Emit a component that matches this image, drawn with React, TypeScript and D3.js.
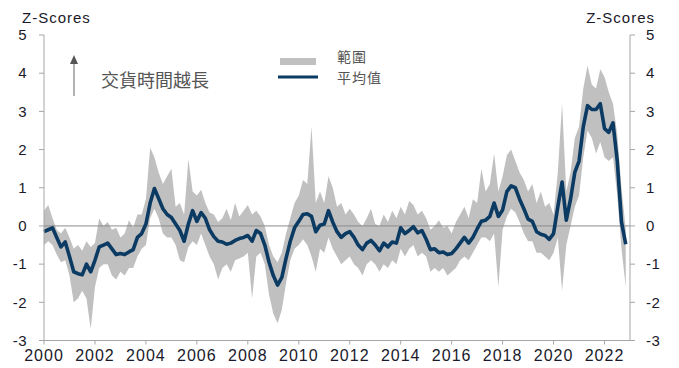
import React from "react";
import * as d3 from "d3";

// Bimonthly observations starting Jan 2000
const startYear = 2000;
const stepsPerYear = 6;

const meanValues = [
  -0.15, -0.1, -0.05, -0.3, -0.55, -0.42,
  -0.8, -1.2, -1.25, -1.28, -1.0, -1.2,
  -0.9, -0.55, -0.5, -0.45, -0.6, -0.75,
  -0.72, -0.75, -0.68, -0.62, -0.3, -0.2,
  0.05, 0.6, 0.98, 0.72, 0.45, 0.3,
  0.22, 0.05, -0.12, -0.4, 0.05, 0.4,
  0.12, 0.35, 0.2, -0.1, -0.28, -0.4,
  -0.42, -0.48, -0.45, -0.38, -0.33, -0.3,
  -0.25, -0.4, -0.12, -0.2, -0.5, -0.95,
  -1.3, -1.55, -1.35, -0.85, -0.4, -0.05,
  0.12, 0.3, 0.32, 0.25, -0.15, 0.02,
  0.05, 0.4, 0.1, -0.15, -0.3, -0.2,
  -0.15, -0.3, -0.5, -0.62, -0.45, -0.38,
  -0.5, -0.65, -0.45, -0.55, -0.42, -0.45,
  -0.05, -0.2, -0.12, -0.02, -0.18, -0.12,
  -0.35, -0.62, -0.6, -0.7, -0.68, -0.75,
  -0.72, -0.6, -0.45, -0.3, -0.45, -0.3,
  -0.08, 0.12, 0.15, 0.25, 0.6, 0.25,
  0.42, 0.9, 1.05, 1.0, 0.7, 0.45,
  0.18, 0.12, -0.15, -0.22, -0.25, -0.35,
  -0.2, 0.5, 1.15, 0.15, 0.7, 1.4,
  1.7, 2.6, 3.15, 3.05, 3.05, 3.2,
  2.55, 2.45, 2.7, 1.7, 0.1, -0.48,
];

const highValues = [
  0.4, 0.55, 0.2, -0.1, -0.2, -0.05,
  -0.3, -0.6, -0.5, -0.65, -0.4, -0.55,
  -0.45, 0.2, 0.0, 0.1, -0.1, -0.05,
  -0.3, -0.2, 0.15, -0.05, 0.3, 0.3,
  0.7, 2.05, 1.8, 1.4, 1.1, 1.3,
  1.5, 0.5, 0.6, 0.3, 1.75, 0.9,
  0.8, 0.95, 0.6, 0.35, 0.3, 0.1,
  0.2, 0.45, 0.15, 0.6, 0.25, 0.4,
  0.55, 0.3, 0.4, 0.25, 0.0, -0.5,
  -0.8, -0.95, -0.7, -0.2, 0.2, 0.6,
  0.8, 1.2, 1.1, 2.6, 0.6, 0.9,
  0.6, 1.3, 1.0, 0.5, 0.6, 0.3,
  0.45, 0.3, 0.1, 0.0, 0.2, 0.45,
  0.05, 0.0, 0.3, 0.1, 0.4, 0.2,
  0.5, 0.3, 0.65, 0.55, 0.3, 0.4,
  0.2, -0.1, 0.0, 0.15, -0.05, 0.0,
  -0.2, 0.1, 0.3, 0.5, 0.2, 0.7,
  0.6, 1.5, 0.9, 1.1, 1.9, 0.9,
  1.3, 1.85, 2.0, 1.7, 1.4, 1.2,
  0.9, 1.1, 0.6, 0.9, 0.5, 0.6,
  0.3, 1.4, 3.2, 0.9, 1.4, 2.3,
  2.6, 3.6, 4.2, 3.7, 3.6, 4.1,
  3.9, 3.5, 3.2, 2.4, 1.0, -0.1,
];

const lowValues = [
  -0.5, -0.4, -0.5, -0.75, -0.95, -0.9,
  -1.3, -2.0, -1.9, -1.7, -1.9, -2.7,
  -1.6, -1.1, -1.0, -1.0, -1.3, -1.4,
  -1.2, -1.3, -1.1, -1.1, -0.8, -0.6,
  -0.5, 0.2, 0.45, 0.2, -0.2, -0.3,
  -0.3, -0.5, -0.9, -0.95, -0.55, -0.4,
  -0.5, -0.2, -0.5, -0.8, -1.0, -1.4,
  -1.1, -1.0, -1.2, -0.9, -0.85, -0.8,
  -0.7, -1.9, -0.8, -0.7, -1.0, -1.8,
  -2.3, -2.55, -2.2, -1.5, -0.9, -0.6,
  -0.5, -0.35, -0.5, -0.8, -1.2, -0.6,
  -0.7, -0.3, -0.6, -0.8, -1.0, -0.9,
  -0.8, -1.0, -1.1, -1.3, -1.0, -0.9,
  -1.0, -1.2, -1.0, -1.1, -0.9, -1.0,
  -0.6, -0.8, -0.6, -0.5, -0.8, -0.7,
  -0.8, -1.2, -1.1, -1.2, -1.1, -1.3,
  -1.2, -1.1, -0.9, -0.8, -0.9, -0.7,
  -0.5, -0.3, -0.3, -0.4, -0.2, -1.6,
  -0.1, 0.25, 0.45, 0.35, 0.1, -0.2,
  -0.4, -0.4, -0.7, -0.7, -0.8, -0.9,
  -0.7, -0.3, -1.7, -0.5, 0.0, 0.5,
  0.8, 1.8, 2.5, 2.3, 1.9, 2.2,
  1.8, 1.7, 1.8, 0.8, -0.6, -1.6,
];

const xTicks = [2000, 2002, 2004, 2006, 2008, 2010, 2012, 2014, 2016, 2018, 2020, 2022];
const yTicks = [-3, -2, -1, 0, 1, 2, 3, 4, 5];
const axisTitle = "Z-Scores";
const legendRange = "範圍";
const legendMean = "平均值";
const annotation = "交貨時間越長";

const W = 679;
const H = 368;
const FONT = "'Liberation Sans', Arial, sans-serif";
const CJK = "'Noto Sans CJK TC', 'Noto Sans CJK SC', sans-serif";

export default function App() {
  const x = d3.scaleLinear().domain([2000, 2023]).range([44, 630]);
  const y = d3.scaleLinear().domain([-3, 5]).range([340.5, 35]);

  const data = meanValues.map((m, i) => ({
    t: startYear + i / stepsPerYear,
    m,
    hi: highValues[i],
    lo: lowValues[i],
  }));

  const area = d3
    .area<any>()
    .x((d) => x(d.t))
    .y0((d) => y(d.lo))
    .y1((d) => y(d.hi));
  const line = d3
    .line<any>()
    .x((d) => x(d.t))
    .y((d) => y(d.m));

  const axisColor = "#a6a6a6";
  const textColor = "#1a1a2a";

  return (
    <div style={{ position: "absolute", left: 0, top: 0 }}>
      <svg width={W} height={H} style={{ display: "block", background: "#fff" }}>
        {/* band */}
        <path d={area(data) || ""} fill="#c0c0c0" stroke="none" />
        {/* zero line */}
        <line x1={x(2000)} x2={x(2023)} y1={y(0)} y2={y(0)} stroke="#8c8c8c" strokeWidth={1} />
        {/* mean */}
        <path d={line(data) || ""} fill="none" stroke="#0b3a63" strokeWidth={3.6} strokeLinejoin="round" />

        {/* left axis */}
        <line x1={44} x2={44} y1={y(5)} y2={y(-3)} stroke={axisColor} strokeWidth={1} />
        {yTicks.map((v) => (
          <g key={"l" + v}>
            <line x1={39} x2={44} y1={y(v)} y2={y(v)} stroke={axisColor} />
            <text x={27} y={y(v)} dy="0.35em" textAnchor="end" fontFamily={FONT} fontSize={15} letterSpacing={0.5} fill={textColor}>
              {v}
            </text>
          </g>
        ))}
        {/* right axis */}
        <line x1={630} x2={630} y1={y(5)} y2={y(-3)} stroke={axisColor} strokeWidth={1} />
        {yTicks.map((v) => (
          <g key={"r" + v}>
            <line x1={630} x2={635} y1={y(v)} y2={y(v)} stroke={axisColor} />
            <text x={646} y={y(v)} dy="0.35em" textAnchor="start" fontFamily={FONT} fontSize={15} letterSpacing={0.5} fill={textColor}>
              {v}
            </text>
          </g>
        ))}
        {/* bottom axis */}
        <line x1={44} x2={630} y1={y(-3)} y2={y(-3)} stroke={axisColor} strokeWidth={1} />
        {xTicks.map((t) => (
          <g key={"x" + t}>
            <line x1={x(t)} x2={x(t)} y1={y(-3)} y2={y(-3) + 4} stroke={axisColor} />
            <text x={x(t)} y={361} textAnchor="middle" fontFamily={FONT} fontSize={16} letterSpacing={1} fill={textColor}>
              {t}
            </text>
          </g>
        ))}

        {/* axis titles */}
        <text x={22} y={23} fontFamily={FONT} fontSize={15} letterSpacing={1} fill={textColor}>
          {axisTitle}
        </text>
        <text x={655} y={23} textAnchor="end" fontFamily={FONT} fontSize={15} letterSpacing={1} fill={textColor}>
          {axisTitle}
        </text>

        {/* annotation arrow */}
        <line x1={74} x2={74} y1={96} y2={62} stroke="#8a8a8a" strokeWidth={1.3} />
        <path d="M70,64 L74,55 L78,64 Z" fill="#555" />
        <text x={101} y={87} fontFamily={CJK} fontSize={18} fill="#555">
          {annotation}
        </text>

        {/* legend */}
        <rect x={280} y={58} width={36} height={7} fill="#c0c0c0" />
        <line x1={278} x2={318} y1={77} y2={77} stroke="#0b3a63" strokeWidth={3} />
        <text x={337} y={62} fontFamily={CJK} fontSize={14} letterSpacing={1} fill="#555">
          {legendRange}
        </text>
        <text x={337} y={83} fontFamily={CJK} fontSize={14} letterSpacing={1} fill="#555">
          {legendMean}
        </text>
      </svg>
    </div>
  );
}
